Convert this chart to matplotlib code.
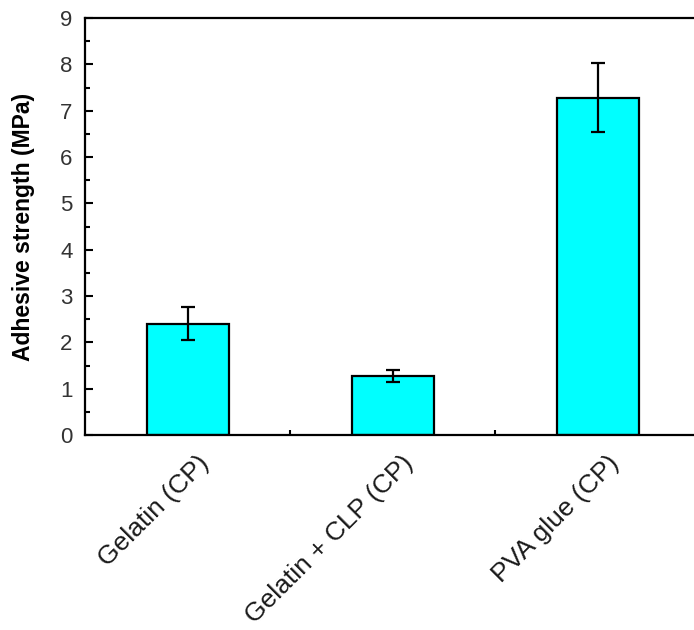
import matplotlib
matplotlib.use("Agg")
import matplotlib.pyplot as plt
from matplotlib.ticker import MultipleLocator, FixedLocator, NullFormatter
from matplotlib.transforms import ScaledTranslation, blended_transform_factory

categories = ["Gelatin (CP)", "Gelatin + CLP (CP)", "PVA glue (CP)"]
strength = [2.40, 1.28, 7.28]
strength_err = [0.36, 0.13, 0.74]

plt.rcParams["font.family"] = ["Liberation Sans", "DejaVu Sans"]

fig = plt.figure(figsize=(6.94, 6.30), dpi=100)
ax = fig.add_axes([85 / 694, 1 - 435 / 630, 615 / 694, 417 / 630])

x = list(range(len(categories)))
ax.bar(x, strength, width=0.4, color="#00FFFF", edgecolor="black", linewidth=1.6, zorder=2)
ax.errorbar(x, strength, yerr=strength_err, fmt="none", ecolor="black",
            elinewidth=1.6, capsize=5, capthick=1.6, zorder=3)

ax.set_xlim(-0.5, 2.5)
ax.set_ylim(0, 9)
ax.yaxis.set_major_locator(MultipleLocator(1))
ax.yaxis.set_minor_locator(MultipleLocator(0.5))
ax.xaxis.set_major_locator(FixedLocator(x))
ax.xaxis.set_minor_locator(FixedLocator([0.5, 1.5]))
ax.xaxis.set_major_formatter(NullFormatter())

# rotated category labels hung below each bar
label_tf = blended_transform_factory(ax.transData, ax.transAxes) + \
    ScaledTranslation(9 / 100, -16 / 100, fig.dpi_scale_trans)
for xi, name in zip(x, categories):
    ax.text(xi, 0, name, transform=label_tf, rotation=45, ha="right", va="top",
            rotation_mode="anchor", fontsize=19, color="#1a1a1a")

ax.tick_params(axis="y", which="major", direction="in", length=6, width=1.5,
               labelsize=16, pad=9, labelcolor="#333333")
ax.tick_params(axis="y", which="minor", direction="in", length=3.5, width=1.5)
ax.tick_params(axis="x", which="major", length=0)
ax.tick_params(axis="x", which="minor", direction="in", length=3.5, width=1.5)

for s in ax.spines.values():
    s.set_linewidth(1.6)

ax.set_ylabel("Adhesive strength (MPa)", fontsize=16.5, fontweight="bold", labelpad=18)

fig.savefig("out.png", dpi=100)
